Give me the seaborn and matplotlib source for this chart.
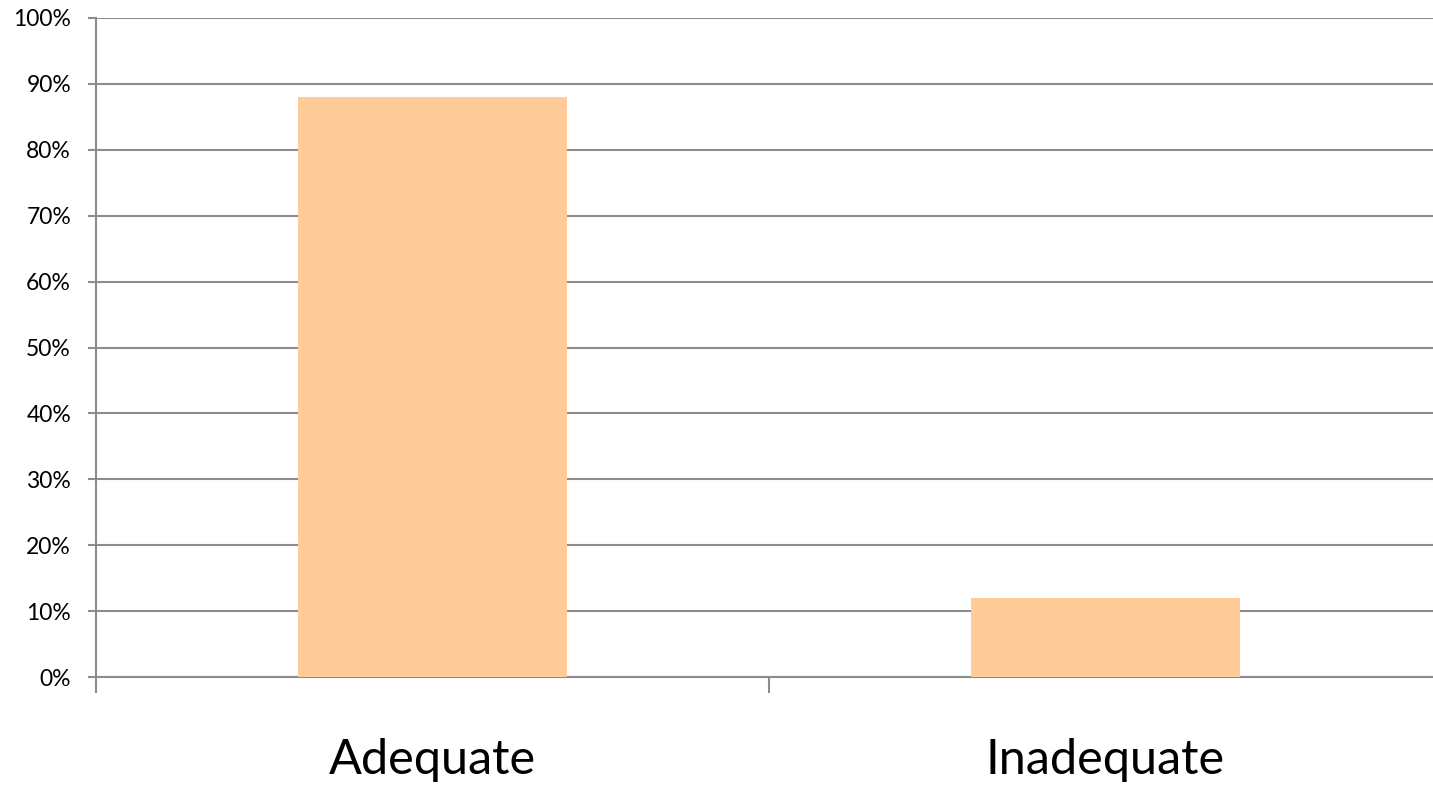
import matplotlib
matplotlib.use("Agg")
import matplotlib.pyplot as plt
import seaborn as sns
import pandas as pd
from matplotlib.ticker import FixedLocator, PercentFormatter

categories = ["Adequate", "Inadequate"]
values = [88, 12]
y_ticks = list(range(0, 101, 10))

sns.set_theme(style="white")
plt.rcParams['font.family'] = ['Lato', 'DejaVu Sans']

df = pd.DataFrame({"category": categories, "value": values})

fig = plt.figure(figsize=(14.33, 7.88), dpi=100)
ax = fig.add_axes([96/1433, 1 - 677/788, 1346/1433, (677 - 18)/788])

sns.barplot(data=df, x="category", y="value", color="#FFCC99", saturation=1,
            width=0.4, ax=ax, zorder=3)

grid_c = "#8C8C8C"
ax.set_ylim(0, 100)
ax.set_xlim(-0.5, 1.5)
ax.set_yticks(y_ticks)
ax.yaxis.set_major_formatter(PercentFormatter(decimals=0))
ax.yaxis.grid(True, color=grid_c, linewidth=1.5, zorder=0)
ax.set_axisbelow(True)
for b in ax.patches:
    b.set_zorder(3)
    b.set_edgecolor("none")

ax.set_xlabel("")
ax.set_ylabel("")
for s in ["top", "right"]:
    ax.spines[s].set_visible(False)
for s in ["left", "bottom"]:
    ax.spines[s].set_color(grid_c)
    ax.spines[s].set_linewidth(1.5)

ax.tick_params(axis="y", which="major", length=6, width=1.5, color=grid_c,
               pad=12, labelsize=16.5, labelcolor="black", left=True)
ax.tick_params(axis="x", which="major", length=0, pad=44, labelsize=35,
               labelcolor="black")
ax.xaxis.set_minor_locator(FixedLocator([-0.5, 0.5, 1.5]))
ax.tick_params(axis="x", which="minor", length=11.5, width=1.5, color=grid_c,
               bottom=True)

fig.savefig("out.png", dpi=100)
